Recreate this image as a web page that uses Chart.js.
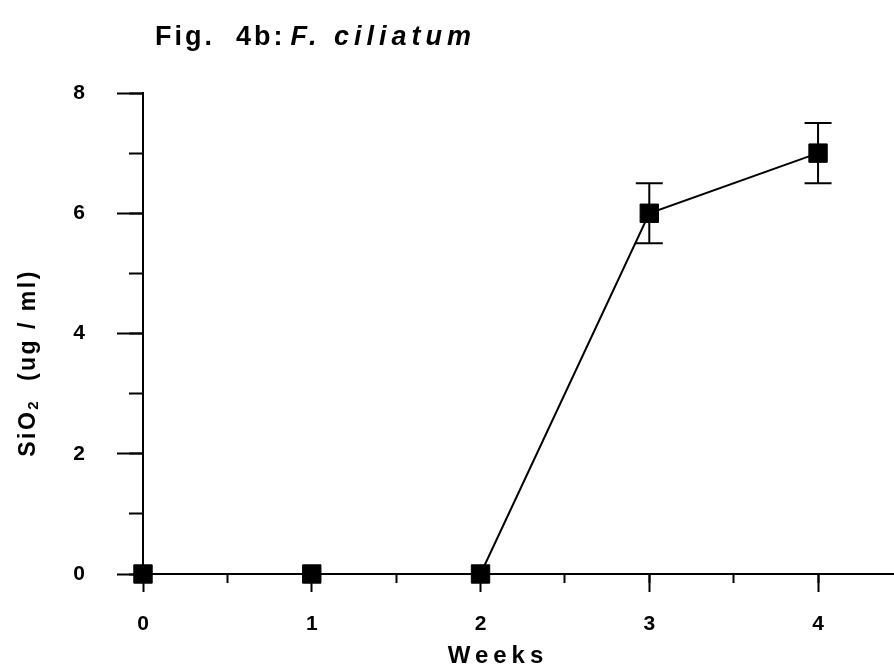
<!DOCTYPE html>
<html>
<head>
<meta charset="utf-8">
<script src="https://cdn.jsdelivr.net/npm/chart.js@4/dist/chart.umd.min.js"></script>
<style>
  html, body { margin: 0; padding: 0; background: #fff; }
  #wrap { width: 894px; height: 666px; }
  canvas { display: block; }
</style>
</head>
<body>
<div id="wrap"><canvas id="c" width="894" height="666"></canvas></div>
<script>
// Silica released by F. ciliatum over time
const weeks = [0, 1, 2, 3, 4];
const sio2 = [0, 0, 0, 6, 7];
const sio2Err = [0, 0, 0, 0.5, 0.5];

// Axis ticks
const xMajorTicks = [0, 1, 2, 3, 4];
const xMinorTicks = [0, 0.5, 1, 1.5, 2, 2.5, 3, 3.5, 4];
const yMajorTicks = [0, 2, 4, 6, 8];
const yMinorTicks = [0, 1, 2, 3, 4, 5, 6, 7, 8];

// Texts
const titlePlain = 'Fig.  4b:';
const titleItalic = 'F. ciliatum';
const xTitle = 'Weeks';
const yTitleMain = 'SiO';
const yTitleSub = '2';
const yTitleRest = '  (ug / ml)';

const FONT = '"Liberation Sans", Arial, Helvetica, sans-serif';
const INK = '#000';

const points = weeks.map((w, i) => ({ x: w, y: sio2[i] }));

// Vertical error bars with caps, drawn behind the markers
const errorBars = {
  id: 'errorBars',
  beforeDatasetsDraw(chart) {
    const { ctx } = chart;
    const xs = chart.scales.x, ys = chart.scales.y;
    ctx.save();
    ctx.strokeStyle = INK;
    ctx.lineWidth = 2;
    weeks.forEach((w, i) => {
      const e = sio2Err[i];
      if (!e) return;
      const px = xs.getPixelForValue(w);
      const top = ys.getPixelForValue(sio2[i] + e);
      const bot = ys.getPixelForValue(sio2[i] - e);
      const half = 13.5;
      ctx.beginPath();
      ctx.moveTo(px, top); ctx.lineTo(px, bot);
      ctx.moveTo(px - half, top); ctx.lineTo(px + half, top);
      ctx.moveTo(px - half, bot); ctx.lineTo(px + half, bot);
      ctx.stroke();
    });
    ctx.restore();
  }
};

// Figure title and axis titles with letter spacing
const titles = {
  id: 'titles',
  afterDraw(chart) {
    const { ctx } = chart;
    ctx.save();
    ctx.fillStyle = INK;
    ctx.textBaseline = 'alphabetic';

    // Figure title: plain part, then the italic species name
    ctx.textAlign = 'left';
    ctx.letterSpacing = '3px';
    ctx.font = 'bold 27px ' + FONT;
    let tx = 155;
    ctx.fillText(titlePlain, tx, 45);
    tx += ctx.measureText(titlePlain).width + 5;
    ctx.letterSpacing = '5px';
    ctx.font = 'italic bold 27px ' + FONT;
    ctx.fillText(titleItalic, tx, 45);

    // X axis title
    ctx.letterSpacing = '5px';
    ctx.font = 'bold 24px ' + FONT;
    ctx.textAlign = 'center';
    ctx.fillText(xTitle, 498, 663);

    // Y axis title (rotated), with subscript
    ctx.letterSpacing = '2.5px';
    ctx.translate(35, 363);
    ctx.rotate(-Math.PI / 2);
    ctx.textAlign = 'left';
    ctx.font = 'bold 23px ' + FONT;
    const wMain = ctx.measureText(yTitleMain).width;
    ctx.font = 'bold 15px ' + FONT;
    const wSub = ctx.measureText(yTitleSub).width;
    ctx.font = 'bold 23px ' + FONT;
    const wRest = ctx.measureText(yTitleRest).width;
    let sx = -(wMain + wSub + wRest) / 2;
    ctx.fillText(yTitleMain, sx, 0);
    sx += wMain;
    ctx.font = 'bold 15px ' + FONT;
    ctx.fillText(yTitleSub, sx, 3);
    sx += wSub;
    ctx.font = 'bold 23px ' + FONT;
    ctx.fillText(yTitleRest, sx, 0);
    ctx.restore();
  }
};

const tickFont = { family: FONT, size: 21, weight: 'bold' };

new Chart(document.getElementById('c'), {
  type: 'line',
  data: {
    datasets: [{
      data: points,
      borderColor: INK,
      borderWidth: 2,
      backgroundColor: INK,
      pointStyle: 'rect',
      pointRadius: 13,
      pointHoverRadius: 13,
      pointBorderWidth: 1,
      pointBackgroundColor: INK,
      pointBorderColor: INK,
      tension: 0,
      clip: false
    }]
  },
  options: {
    responsive: false,
    animation: false,
    events: [],
    layout: { autoPadding: false, padding: { top: 93, left: 0, right: 0, bottom: 0 } },
    plugins: { legend: { display: false }, tooltip: { enabled: false }, title: { display: false } },
    scales: {
      x: {
        type: 'linear', position: 'bottom', weight: 1,
        min: 0, max: 4.45,
        afterBuildTicks: s => { s.ticks = xMajorTicks.map(v => ({ value: v })); },
        afterFit: s => { s.height = 92; },
        border: { display: true, color: INK, width: 2 },
        grid: { drawOnChartArea: false, drawTicks: true, tickLength: 18, tickColor: INK, tickWidth: 2 },
        ticks: { color: INK, font: tickFont, padding: 20, maxRotation: 0, callback: v => String(v) }
      },
      xMinor: {
        type: 'linear', position: 'bottom', weight: 0,
        min: 0, max: 4.45,
        afterBuildTicks: s => { s.ticks = xMinorTicks.map(v => ({ value: v })); },
        afterFit: s => { s.height = 0; },
        border: { display: false },
        grid: { drawOnChartArea: false, drawTicks: true, tickLength: 9, tickColor: INK, tickWidth: 2 },
        ticks: { display: false }
      },
      y: {
        type: 'linear', position: 'left', weight: 1,
        min: 0, max: 8,
        afterBuildTicks: s => { s.ticks = yMajorTicks.map(v => ({ value: v })); },
        afterFit: s => { s.width = 143; },
        border: { display: true, color: INK, width: 2 },
        grid: { drawOnChartArea: false, drawTicks: true, tickLength: 26, tickColor: INK, tickWidth: 2 },
        ticks: { color: INK, font: tickFont, padding: 32, callback: v => String(v) }
      },
      yMinor: {
        type: 'linear', position: 'left', weight: 0,
        min: 0, max: 8,
        afterBuildTicks: s => { s.ticks = yMinorTicks.map(v => ({ value: v })); },
        afterFit: s => { s.width = 0; },
        border: { display: false },
        grid: { drawOnChartArea: false, drawTicks: true, tickLength: 14, tickColor: INK, tickWidth: 2 },
        ticks: { display: false }
      }
    }
  },
  plugins: [errorBars, titles]
});
</script>
</body>
</html>
